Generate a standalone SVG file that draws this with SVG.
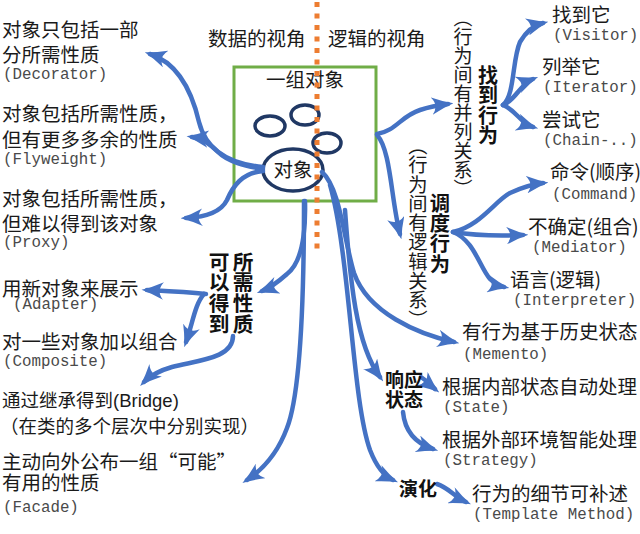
<svg xmlns="http://www.w3.org/2000/svg" width="640" height="534" viewBox="0 0 640 534">
<style>
.t{font-family:"Noto Sans CJK SC","Liberation Sans",sans-serif;font-size:19.5px;fill:#1a1a1a}
.y{font-family:"Noto Sans CJK SC","Liberation Sans",sans-serif;font-size:18.5px;fill:#1a1a1a}
.m{font-family:"Liberation Mono","DejaVu Sans Mono",monospace;font-size:15.8px;fill:#4a4a4a}
.b{font-family:"Noto Sans CJK SC","Liberation Sans",sans-serif;font-size:19px;font-weight:bold;fill:#111}
.vb{font-family:"Noto Sans CJK SC","Liberation Sans",sans-serif;font-weight:bold;fill:#111;writing-mode:vertical-rl}
.v{font-family:"Noto Sans CJK SC","Liberation Sans",sans-serif;font-size:19px;fill:#1a1a1a;writing-mode:vertical-rl}
.c{fill:none;stroke:#4472C4;stroke-width:4.5;stroke-linecap:round;stroke-linejoin:round;marker-end:url(#ah)}
.e{fill:none;stroke:#203864;stroke-width:3.5}
</style>
<defs>
<marker id="ah" viewBox="0 0 20 16" refX="15" refY="8" markerWidth="22" markerHeight="17.6" markerUnits="userSpaceOnUse" orient="auto">
<path d="M0,0 Q10,5 20,8 Q10,11 0,16 Q7,8 0,0 Z" fill="#4472C4"/>
</marker>
</defs>
<rect width="640" height="534" fill="#fff"/>

<g id="object-group">
<rect x="234" y="67" width="142" height="134" fill="none" stroke="#70AD47" stroke-width="3"/>
<text class="t" x="305" y="86.5" text-anchor="middle">一组对象</text>
<ellipse class="e" cx="270" cy="126" rx="15" ry="10"/>
<ellipse class="e" cx="305" cy="115" rx="14" ry="10"/>
<ellipse class="e" cx="327" cy="143" rx="14" ry="10"/>
<ellipse class="e" cx="293" cy="170" rx="30" ry="21" fill="#fff"/>
<text class="t" x="293" y="177" text-anchor="middle">对象</text>
</g>

<g id="connectors">
<path class="c" d="M263,167 C230,164 206,150 199,122 C192,92 178,63 150,54"/>
<path class="c" d="M263,169 C245,166 228,162 218,152 C208,142 200,138 192,137"/>
<path class="c" d="M263,171 C242,173 233,186 227,200 C221,212 207,217 186,218"/>
<path class="c" d="M305,201 C306,240 300,264 287,274 C278,282 270,288 262,291"/>
<path class="c" d="M304,201 C304,300 300,395 287,428 C277,455 262,470 247,480"/>
<path class="c" d="M206,294 C185,292 165,291 147,290"/>
<path class="c" d="M204,294 C195,304 193,322 186,342"/>
<path class="c" d="M233,336 C233,358 200,360 172,367 C158,371 150,376 144,382"/>
<path class="c" d="M377,134 C396,131 401,116 420,110 C432,106 440,105 448,104"/>
<path class="c" d="M377,135 C391,150 391,200 400,234"/>
<path class="c" d="M322,172 C340,188 344,240 354,273 C368,313 418,334 454,342"/>
<path class="c" d="M345,210 C350,280 356,345 380,377"/>
<path class="c" d="M330,185 C350,255 352,400 370,450 C377,468 384,476 393,480"/>
<path class="c" d="M503,105 C515,95 512,60 520,42 C527,30 535,25 543,23"/>
<path class="c" d="M503,105 C516,100 520,84 533,79"/>
<path class="c" d="M503,105 C516,110 520,123 533,127"/>
<path class="c" d="M453,232 C480,226 495,201 510,193 C523,187 533,184 543,183"/>
<path class="c" d="M453,232 C478,236 500,236 523,235"/>
<path class="c" d="M453,232 C474,240 480,268 490,279 C495,284 499,286 504,287"/>
<path class="c" d="M421,377 C427,381 430,385 435,389"/>
<path class="c" d="M403,412 C405,433 418,444 433,449"/>
<path class="c" d="M437,484 C449,488 455,497 466,502"/>
</g>

<g id="divider">
<line x1="317" y1="2" x2="317" y2="255" stroke="#ED7D31" stroke-width="5" stroke-dasharray="5 6.5"/>
</g>

<g id="view-data"><text class="t" x="208" y="45.5">数据的视角</text></g>
<g id="view-logic"><text class="t" x="328" y="45.5">逻辑的视角</text></g>

<g id="decorator">
<text class="t" x="2" y="36.5">对象只包括一部</text>
<text class="t" x="2" y="61.5">分所需性质</text>
<text class="m" x="3" y="79">(Decorator)</text>
</g>
<g id="flyweight">
<text class="t" x="2" y="120.5">对象包括所需性质，</text>
<text class="t" x="2" y="146.5">但有更多多余的性质</text>
<text class="m" x="3" y="164">(Flyweight)</text>
</g>
<g id="proxy">
<text class="t" x="2" y="205.5">对象包括所需性质，</text>
<text class="t" x="2" y="230.5">但难以得到该对象</text>
<text class="m" x="3" y="247">(Proxy)</text>
</g>
<g id="adapter">
<text class="t" x="2" y="295.5">用新对象来展示</text>
<text class="m" x="13" y="309">(Adapter)</text>
</g>
<g id="composite">
<text class="t" x="2" y="348.5">对一些对象加以组合</text>
<text class="m" x="3" y="366">(Composite)</text>
</g>
<g id="bridge">
<text class="y" x="2" y="406.5">通过继承得到<tspan font-family="Liberation Sans">(Bridge)</tspan></text>
<text class="y" x="0" y="433">（在类的多个层次中分别实现）</text>
</g>
<g id="facade">
<text class="t" x="2" y="468.5">主动向外公布一组“可能”</text>
<text class="t" x="2" y="490">有用的性质</text>
<text class="m" x="3" y="512">(Facade)</text>
</g>

<g id="label-required">
<text class="vb" x="243" y="251.5" style="font-size:20.7px">所需性质</text>
<text class="vb" x="219" y="251.5" style="font-size:20.7px">可以得到</text>
</g>

<g id="label-find">
<text class="vb" x="488" y="65" style="font-size:20px">找到行为</text>
<text class="v" x="463" y="8.5">（行为间有并列关系）</text>
</g>

<g id="label-schedule">
<text class="vb" x="440" y="193" style="font-size:20.3px">调度行为</text>
<text class="v" x="418" y="136" style="font-size:19.3px">（行为间有逻辑关系）</text>
</g>

<g id="visitor"><text class="t" x="552" y="22">找到它</text><text class="m" x="553" y="39.5">(Visitor)</text></g>
<g id="iterator"><text class="t" x="542" y="73.5">列举它</text><text class="m" x="543" y="92">(Iterator)</text></g>
<g id="chain"><text class="t" x="542" y="126.5">尝试它</text><text class="m" x="543" y="145">(Chain-..)</text></g>
<g id="command"><text class="t" x="550" y="178.5">命令(顺序)</text><text class="m" x="552" y="199">(Command)</text></g>
<g id="mediator"><text class="t" x="528" y="233.5">不确定(组合)</text><text class="m" x="532" y="252">(Mediator)</text></g>
<g id="interpreter"><text class="t" x="510" y="286.5">语言(逻辑)</text><text class="m" x="513" y="305">(Interpreter)</text></g>
<g id="memento"><text class="t" x="462" y="338.5">有行为基于历史状态</text><text class="m" x="463" y="359">(Memento)</text></g>
<g id="label-respond"><text class="b" x="385" y="386.5">响应</text><text class="b" x="385" y="406.5">状态</text></g>
<g id="state"><text class="t" x="442" y="393.5">根据内部状态自动处理</text><text class="m" x="443" y="412">(State)</text></g>
<g id="strategy"><text class="t" x="442" y="446.5">根据外部环境智能处理</text><text class="m" x="443" y="465">(Strategy)</text></g>
<g id="label-evolve"><text class="b" x="399" y="495.5">演化</text></g>
<g id="template"><text class="t" x="472" y="500.5">行为的细节可补述</text><text class="m" x="473" y="519">(Template Method)</text></g>
</svg>
